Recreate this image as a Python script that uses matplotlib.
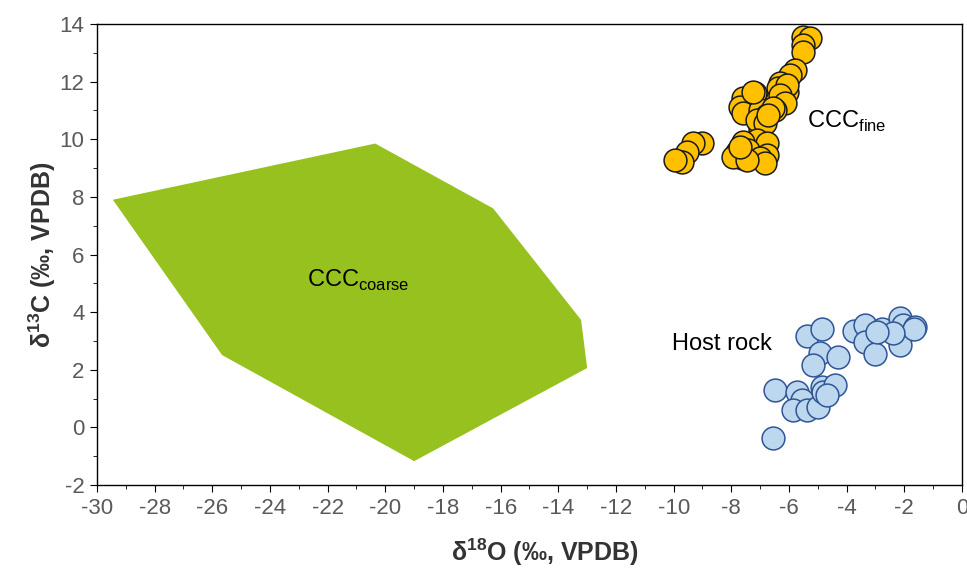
import numpy as np
import matplotlib.pyplot as plt
from matplotlib.ticker import MultipleLocator

plt.rcParams['font.family'] = ['Liberation Sans', 'DejaVu Sans']
plt.rcParams['mathtext.fontset'] = 'custom'
plt.rcParams['mathtext.rm'] = 'Liberation Sans'
plt.rcParams['mathtext.bf'] = 'Liberation Sans:bold'
plt.rcParams['axes.unicode_minus'] = False

# CCC coarse field (polygon outline)
coarse_x = [-29.45, -20.35, -16.26, -13.21, -13.0, -19.0, -25.66]
coarse_y = [7.9, 9.85, 7.6, 3.73, 2.06, -1.17, 2.51]

# CCC fine samples
fine_x = [-5.50, -5.27, -5.50, -5.50, -5.79, -5.96, -6.31, -6.37, -6.08, -6.25,
          -6.43, -6.08, -6.31, -6.14,
          -7.58, -7.18, -7.70, -7.58, -7.00, -6.77, -6.48, -7.00, -7.12, -6.83,
          -7.24, -6.54,
          -7.12, -6.77, -7.58, -7.41, -7.81, -7.64, -6.77, -7.00, -6.83, -7.93,
          -7.47, -7.70,
          -9.03, -9.32, -9.55, -9.72, -9.95,
          -6.73]
fine_y = [13.56, 13.50, 13.27, 13.04, 12.40, 12.23, 11.94, 11.77, 11.65, 11.48,
          11.36, 11.88, 11.54, 11.25,
          11.42, 11.59, 11.13, 10.90, 11.01, 10.84, 11.01, 10.32, 10.67, 10.55,
          11.65, 11.07,
          9.97, 9.86, 9.91, 9.63, 9.57, 9.34, 9.45, 9.34, 9.16, 9.39,
          9.28, 9.74,
          9.86, 9.86, 9.57, 9.22, 9.28,
          10.84]

# host rock samples
host_x = [-5.38, -4.87, -4.92, -4.29, -5.16, -6.48, -5.73, -5.56, -5.85, -5.38,
          -4.98, -4.87, -4.81, -4.40, -4.69, -6.54, -3.75, -3.35, -3.35, -3.00,
          -2.77, -2.15, -2.05, -2.15, -2.15, -1.63, -1.65, -2.38, -2.96]
host_y = [3.17, 3.43, 2.57, 2.45, 2.16, 1.30, 1.24, 0.95, 0.60, 0.60,
          0.72, 1.41, 1.24, 1.47, 1.12, -0.35, 3.35, 3.55, 2.97, 2.55,
          3.43, 3.78, 3.55, 3.09, 2.86, 3.49, 3.40, 3.26, 3.32]

fig = plt.figure(figsize=(9.67, 5.70), dpi=100)
ax = fig.add_axes([0.1003, 0.149, 0.8945, 0.809])

ax.fill(coarse_x, coarse_y, color='#97C11F', lw=0, zorder=1)
ax.scatter(fine_x, fine_y, s=270, c='#FFC000', edgecolors='#1a1a1a', linewidths=1.1, zorder=3)
ax.scatter(host_x, host_y, s=270, c='#BDD7EE', edgecolors='#2F5597', linewidths=1.1, zorder=3)

ax.text(-22.72, 4.87, r'CCC$_\mathrm{coarse}$', fontsize=17, ha='left', va='baseline')
ax.text(-5.39, 10.38, r'CCC$_\mathrm{fine}$', fontsize=17, ha='left', va='baseline')
ax.text(-10.06, 2.69, 'Host rock', fontsize=17, ha='left', va='baseline')

ax.set_xlim(-30, 0)
ax.set_ylim(-2, 14)
ax.xaxis.set_major_locator(MultipleLocator(2))
ax.xaxis.set_minor_locator(MultipleLocator(1))
ax.yaxis.set_major_locator(MultipleLocator(2))
ax.yaxis.set_minor_locator(MultipleLocator(1))
ax.tick_params(which='both', direction='out', top=False, right=False,
               labelsize=16, labelcolor='#5a5a5a')
ax.tick_params(which='major', length=5, pad=4)
ax.tick_params(which='minor', length=3)
for s in ax.spines.values():
    s.set_linewidth(1.0)

ax.set_xlabel(r'δ$^\mathbf{18}$O (‰, VPDB)', fontsize=18, fontweight='bold', color='#333333', va='center')
ax.set_ylabel(r'δ$^\mathbf{13}$C (‰, VPDB)', fontsize=18, fontweight='bold', color='#333333', va='center')
ax.xaxis.set_label_coords(0.518, -0.145)
ax.yaxis.set_label_coords(-0.0636, 0.5)

fig.savefig('out.png', dpi=100)
